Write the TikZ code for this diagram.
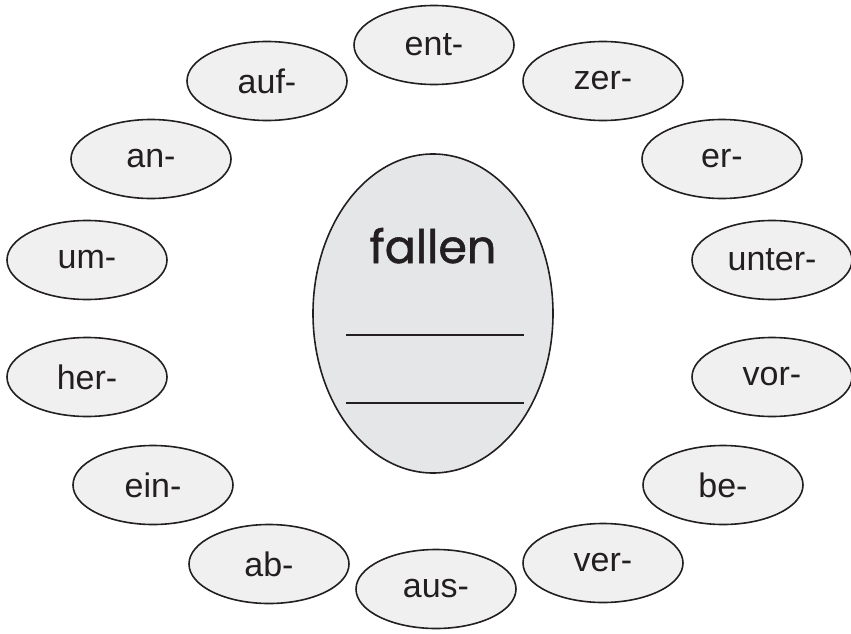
\documentclass[tikz,border=0pt]{standalone}
\usepackage{fontspec}
\setmainfont{Liberation Sans}
\newfontfamily\stemfont[FakeBold=1.2]{Poppins}
\usepackage{xcolor}
\usetikzlibrary{shapes.geometric}
\definecolor{prefixgray}{HTML}{F0F0F0}
\definecolor{stemgray}{HTML}{E5E6E8}
\definecolor{inkblack}{HTML}{231F20}

\begin{document}
\begin{tikzpicture}[ x = 1pt, y = -1pt
                     , every node/.style = { ellipse
                                           , draw = inkblack
                                           , line width = 1.6pt
                                           , inner sep = 0pt
                                           , text = inkblack }
                     , prefixbox/.style = { fill = prefixgray
                                          , minimum width = 160pt
                                          , minimum height = 79pt
                                          , font = \fontsize{34}{40}\selectfont }
                     , writeline/.style = { draw = inkblack, line width = 2.6pt }
                     ]

  \useasboundingbox (0,0) rectangle (851,634);

  % centre
  \node (stem) [fill = stemgray, minimum width = 240pt, minimum height = 319pt] at (433,313.5) {};
  \node (word) [draw = none, anchor = base, font = \stemfont\fontsize{46}{50}\selectfont] at (433,263) {fallen};
  \coordinate (line1l) at (346,335);
  \coordinate (line1r) at (524,335);
  \coordinate (line2l) at (346,403);
  \coordinate (line2r) at (524,403);
  \draw[writeline] (line1l) -- (line1r);
  \draw[writeline] (line2l) -- (line2r);

  % ring of prefixes
  \node (ent)   [prefixbox] at (434,45)  {ent-};
  \node (zer)   [prefixbox] at (603,81)  {zer-};
  \node (er)    [prefixbox] at (722,159) {er-};
  \node (unter) [prefixbox] at (772,260) {unter-};
  \node (vor)   [prefixbox] at (772,377) {vor-};
  \node (be)    [prefixbox] at (723,485) {be-};
  \node (ver)   [prefixbox] at (603,563) {ver-};
  \node (aus)   [prefixbox] at (436,589) {aus-};
  \node (ab)    [prefixbox] at (269,564) {ab-};
  \node (ein)   [prefixbox] at (153,485) {ein-};
  \node (her)   [prefixbox] at (87,377)  {her-};
  \node (um)    [prefixbox] at (87,260)  {um-};
  \node (an)    [prefixbox] at (151,159) {an-};
  \node (auf)   [prefixbox] at (267,81)  {auf-};

\end{tikzpicture}
\end{document}
